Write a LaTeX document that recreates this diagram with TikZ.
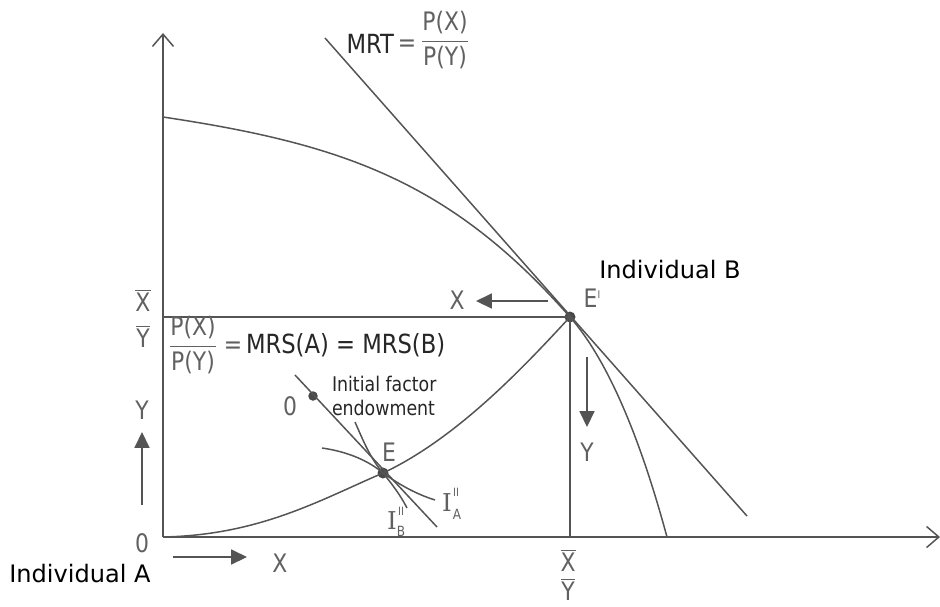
\documentclass[tikz,border=0pt]{standalone}
\usepackage{fontspec}
\setmainfont{DejaVu Sans}
\newfontfamily\lab{DejaVu Sans}[FakeStretch=0.86]
\newfontfamily\serifI{DejaVu Serif}
\usetikzlibrary{arrows.meta}
\definecolor{ln}{gray}{0.33}
\definecolor{tx}{gray}{0.38}
\newcommand\obar[1]{\ensuremath{\overline{\hbox{#1}}}}
\newcommand\pfrac[2]{\ensuremath{\displaystyle\frac{\hbox{#1}}{\hbox{#2}}}}
\begin{document}
\begin{tikzpicture}[x=0.02cm,y=-0.02cm, line width=0.85pt,
  every node/.style={inner sep=0pt, outer sep=0pt},
  curve/.style={draw=ln},
  axis/.style={draw=ln, -{Straight Barb[length=7pt,width=12pt]}},
  small/.style={draw=ln, -{Triangle[length=9pt,width=8.5pt]}},
  lbl/.style={text=tx, font=\lab\fontsize{14.5}{16}\selectfont},
  blk/.style={text=black, font=\fontsize{13.7}{16}\selectfont},
  eq/.style={text=black!85, font=\lab\fontsize{15}{17}\selectfont},
  note/.style={text=black!85, font=\lab\fontsize{11.5}{13.5}\selectfont, align=left},
  ilab/.style={text=tx, font=\serifI\fontsize{14}{16}\selectfont},
  isup/.style={text=tx, font=\lab\fontsize{6.5}{7}\selectfont},
  isub/.style={text=tx, font=\lab\fontsize{8}{9}\selectfont},
  dot/.style={circle, fill=ln!85!black, minimum size=0.22cm},
  sdot/.style={circle, fill=ln!85!black, minimum size=0.19cm}]
\useasboundingbox (0,0) rectangle (940,606);

% coordinates
\coordinate (O) at (163,537);
\coordinate (Ytop) at (163,33);
\coordinate (Xend) at (940,537);
\coordinate (P0) at (163,117);
\coordinate (P1) at (667,537);
\coordinate (Yb) at (163,317);
\coordinate (Xb) at (570,537);
\coordinate (M0) at (325,38);
\coordinate (M1) at (747,516);
\coordinate (B0) at (295,375);
\coordinate (B1) at (437,527);
\coordinate (IA0) at (322,448);
\coordinate (IA1) at (435,500);
\coordinate (IB0) at (355,422);
\coordinate (IB1) at (407,508);

% points
\node[dot] (Ep) at (570,317) {};
\node[dot] (E) at (383,473) {};
\node[sdot] (En) at (313,396) {};

% axes
\draw[axis] (O) -- (Ytop);
\draw[axis] (O) -- (Xend);

% production possibility frontier
\draw[curve] (P0) .. controls (343,144) and (450,181) .. (Ep.center)
  .. controls (620,374) and (652,482) .. (P1);
% MRT line
\draw[curve] (M0) -- (M1);
% box lines
\draw[curve] (Yb) -- (Ep.center);
\draw[curve] (Ep.center) -- (Xb);
% contract curve
\draw[curve] (O) .. controls (260,535) and (320,500) .. (E.center)
  .. controls (460,437) and (530,360) .. (Ep.center);
% budget line through endowment
\draw[curve] (B0) -- (B1);
% indifference curves
\draw[curve] (IA0) .. controls (350,452) and (370,462) .. (E.center)
  .. controls (400,485) and (416,494) .. (IA1);
\draw[curve] (IB0) .. controls (363,440) and (370,458) .. (E.center)
  .. controls (392,484) and (401,496) .. (IB1);

% direction arrows
\coordinate (ax0) at (548,301); \coordinate (ax1) at (476,301);
\draw[small] (ax0) -- (ax1);
\coordinate (ay0) at (587,357); \coordinate (ay1) at (587,427);
\draw[small] (ay0) -- (ay1);
\coordinate (by0) at (142,505); \coordinate (by1) at (142,432);
\draw[small] (by0) -- (by1);
\coordinate (bx0) at (173,557); \coordinate (bx1) at (247,557);
\draw[small] (bx0) -- (bx1);

% labels
\node[eq, anchor=east] (mrt) at (394,44) {MRT};
\node[lbl] (mrteq) at (407,46) {=};
\node[lbl] (mrtfr) at (445,40) {\pfrac{P(X)}{P(Y)}};

\node[blk] (IB) at (670,270) {Individual B};
\node[lbl] (Eplab) at (592,298) {E\raisebox{0.6ex}{\fontsize{6}{6}\selectfont I}};
\node[lbl] (xarr) at (457,300) {X};
\node[lbl] (Xbl) at (143,300) {\obar{X}};
\node[lbl] (Ybl) at (143,336) {\obar{Y}};
\node[lbl] (mrsfr) at (193,345) {\pfrac{P(X)}{P(Y)}};
\node[lbl] (mrseq) at (233,348) {=};
\node[eq, anchor=west] (mrs) at (246,345) {MRS(A) = MRS(B)};

\node[note, anchor=west] (init) at (332,396) {Initial factor\\endowment};
\node[lbl] (zero2) at (290,406) {0};
\node[lbl] (Elab) at (389,452) {E};

\node[ilab] (IAI) at (447,503) {I};
\node[isup] (IAsup) at (456,492) {II};
\node[isub] (IAsub) at (457,514) {A};
\node[ilab] (IBI) at (392,521) {I};
\node[isup] (IBsup) at (401,511) {II};
\node[isub] (IBsub) at (401,531) {B};

\node[lbl] (yright) at (587,452) {Y};
\node[lbl] (yleft) at (142,410) {Y};
\node[lbl] (zero) at (142,543) {0};
\node[blk] (IA) at (80,574) {Individual A};
\node[lbl] (xbottom) at (280,563) {X};
\node[lbl] (Xbb) at (568,560) {\obar{X}};
\node[lbl] (Ybb) at (568,589) {\obar{Y}};
\end{tikzpicture}
\end{document}
